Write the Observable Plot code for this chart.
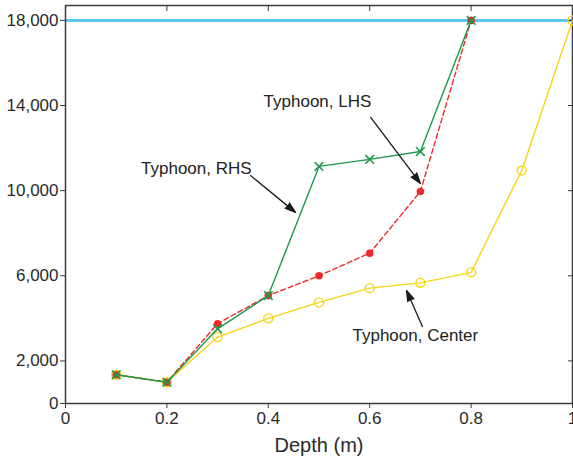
<!DOCTYPE html>
<html>
<head>
<meta charset="utf-8">
<script src="https://cdn.jsdelivr.net/npm/d3@7"></script>
<script src="https://cdn.jsdelivr.net/npm/@observablehq/plot@0.6"></script>
<style>
  html, body { margin: 0; padding: 0; background: #fff; }
  svg { font-family: "Liberation Sans", Arial, sans-serif; }
</style>
</head>
<body>
<div id="chart"></div>
<script>
const depth = [0.1, 0.2, 0.3, 0.4, 0.5, 0.6, 0.7, 0.8, 0.9, 1.0];
const center = [1350, 1000, 3120, 4000, 4750, 5420, 5670, 6160, 10950, 18000];
const lhs = [1350, 1000, 3750, 5070, 6000, 7060, 9960, 18000];
const rhs = [1350, 1000, 3510, 5070, 11140, 11470, 11840, 18000];
const limitValue = 18000;

const xTicks = [0, 0.2, 0.4, 0.6, 0.8, 1];
const yTicks = [0, 2000, 6000, 10000, 14000, 18000];
const xLabel = "Depth (m)";

const labelText = ["Typhoon, LHS", "Typhoon, RHS", "Typhoon, Center"];
const labelX = [0.497, 0.258, 0.690];
const labelY = [14180, 11040, 3200];
const arrowX1 = [0.602, 0.365, 0.704];
const arrowY1 = [13440, 10710, 3620];
const arrowX2 = [0.700, 0.4536, 0.6726];
const arrowY2 = [10340, 8980, 5310];

const centerData = center.map((v, i) => ({x: depth[i], y: v}));
const lhsData = lhs.map((v, i) => ({x: depth[i], y: v}));
const rhsData = rhs.map((v, i) => ({x: depth[i], y: v}));
const labels = labelText.map((t, i) => ({t, x: labelX[i], y: labelY[i]}));
const arrows = arrowX1.map((v, i) => ({x1: v, y1: arrowY1[i], x2: arrowX2[i], y2: arrowY2[i]}));

const axisColor = "#3a3a3a";
const green = "#1a9a4a";
const red = "#ee2a2a";
const yellow = "#f7d417";
const blue = "#5cc6f2";

const chart = Plot.plot({
  width: 573,
  height: 463,
  marginLeft: 65,
  marginRight: 1,
  marginTop: 5,
  marginBottom: 60,
  style: {fontFamily: "'Liberation Sans', Arial, sans-serif", fontSize: "17px", color: "#2a2a2a"},
  x: {domain: [0, 1]},
  y: {domain: [0, 18700]},
  marks: [
    Plot.ruleY([limitValue], {stroke: blue, strokeWidth: 3}),
    Plot.axisX({anchor: "bottom", ticks: xTicks, tickFormat: d => String(d), tickSize: 5, tickPadding: 3, stroke: axisColor, fontSize: 17, label: null}),
    Plot.axisX({anchor: "top", ticks: xTicks, tickFormat: () => "", tickSize: -5, stroke: axisColor, label: null}),
    Plot.axisY({anchor: "left", ticks: yTicks, tickFormat: d3.format(","), tickSize: 5, tickPadding: 2, stroke: axisColor, fontSize: 17, label: null}),
    Plot.axisY({anchor: "right", ticks: yTicks, tickFormat: () => "", tickSize: -5, stroke: axisColor, label: null}),
    Plot.text([xLabel], {frameAnchor: "bottom", dy: 42, fontSize: 20, fill: "#2a2a2a", lineAnchor: "middle"}),
    Plot.frame({stroke: axisColor, strokeWidth: 1.5}),
    Plot.line(centerData, {x: "x", y: "y", stroke: yellow, strokeWidth: 1.4}),
    Plot.dot(centerData, {x: "x", y: "y", stroke: yellow, r: 4.5, strokeWidth: 1.4, fill: "none"}),
    Plot.line(lhsData, {x: "x", y: "y", stroke: red, strokeWidth: 1.4, strokeDasharray: "5,3"}),
    Plot.dot(lhsData, {x: "x", y: "y", fill: red, r: 3.8}),
    Plot.line(rhsData, {x: "x", y: "y", stroke: green, strokeWidth: 1.4}),
    Plot.dot(rhsData, {x: "x", y: "y", symbol: "times", stroke: green, r: 4, strokeWidth: 1.6}),
    Plot.arrow(arrows, {x1: "x1", y1: "y1", x2: "x2", y2: "y2", stroke: "#1a1a1a", fill: "#1a1a1a", strokeWidth: 1.3, headLength: 13, headAngle: 35}),
    Plot.text(labels, {x: "x", y: "y", text: "t", fontSize: 17, fill: "#222", textAnchor: "middle"})
  ]
});
document.getElementById("chart").appendChild(chart);
</script>
</body>
</html>
